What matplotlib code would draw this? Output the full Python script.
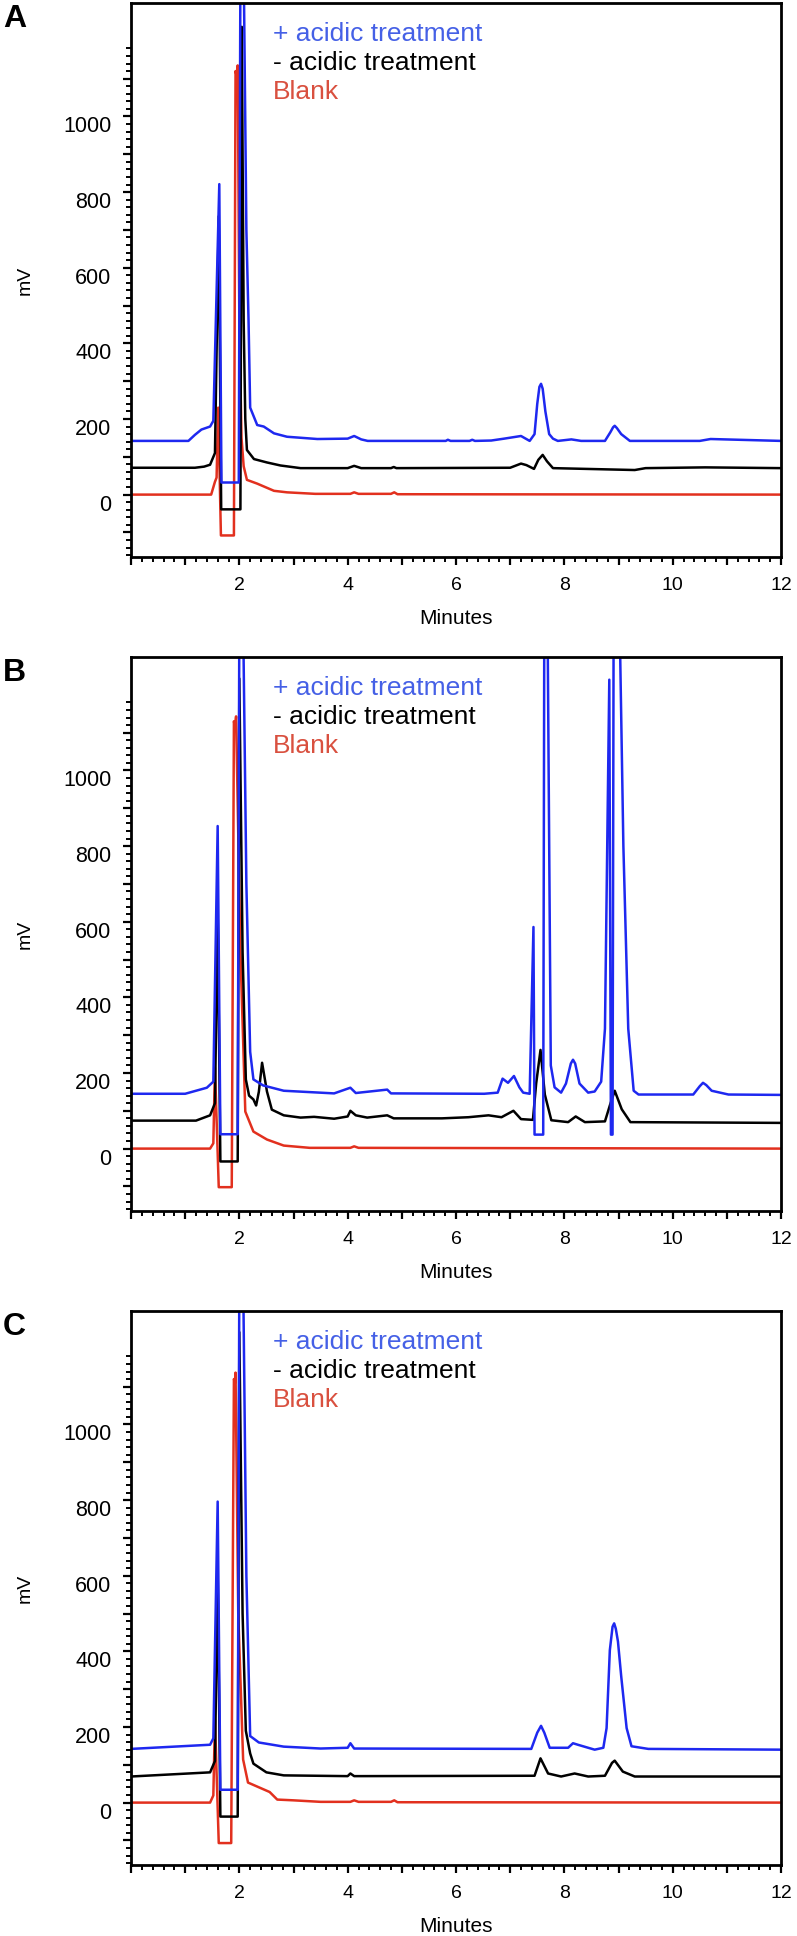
import numpy as np
import matplotlib
matplotlib.use("Agg")
import matplotlib.pyplot as plt
from matplotlib.ticker import FixedLocator, FuncFormatter
import matplotlib.transforms as mtransforms

plt.rcParams['font.family'] = ['Liberation Sans', 'DejaVu Sans']

# ---------------- data (minutes, mV) ----------------
# Panel A
A_blue_t = [0, 1.06, 1.18, 1.30, 1.46, 1.52, 1.63, 1.67, 1.99, 2.02, 2.08, 2.13, 2.17, 2.20, 2.33, 2.45,
            2.64, 2.88, 3.44, 4.0, 4.12, 4.25, 4.37, 5.81, 5.85, 5.9, 6.25, 6.3, 6.35, 6.65, 6.89, 7.20,
            7.36, 7.45, 7.50, 7.54, 7.57, 7.60, 7.65, 7.72, 7.79, 7.88, 8.13, 8.31, 8.75, 8.85, 8.90,
            8.93, 8.97, 9.05, 9.21, 10.5, 10.7, 12.0]
A_blue_mv = [142, 142, 158, 172, 180, 195, 821, 32, 32, 1400, 1400, 700, 460, 230, 184, 180,
             162, 153, 147, 148, 155, 146, 142, 142, 145, 142, 142, 145, 142, 143, 148, 155,
             142, 160, 240, 285, 293, 280, 220, 160, 148, 142, 146, 142, 142, 165, 178,
             182, 176, 160, 142, 142, 147, 142]
A_black_t = [0, 1.18, 1.35, 1.46, 1.55, 1.62, 1.665, 2.02, 2.045, 2.08, 2.11, 2.14, 2.27, 2.51, 2.76,
             3.13, 4.0, 4.12, 4.25, 4.8, 4.85, 4.9, 7.0, 7.2, 7.3, 7.44, 7.52, 7.6, 7.68, 7.79, 9.3,
             9.5, 10.6, 12]
A_black_mv = [71, 71, 74, 79, 110, 736, -39, -39, 1237, 460, 200, 118, 94, 85, 77,
              70, 70, 76, 70, 70, 73, 70, 71, 82, 78, 68, 92, 105, 88, 70, 65,
              70, 72, 70]
A_red_t = [0, 1.48, 1.55, 1.58, 1.61, 1.66, 1.90, 1.93, 1.95, 1.97, 2.00, 2.04, 2.08, 2.14, 2.33,
           2.64, 2.88, 3.4, 4.05, 4.12, 4.2, 4.8, 4.86, 4.92, 12]
A_red_mv = [0, 0, 34, 45, 230, -108, -108, 1120, 1108, 1135, 460, 150, 75, 39, 29,
            10, 6, 2, 2, 6, 2, 2, 6, 1, 0]

# Panel B
B_blue_t = [0, 1.0, 1.4, 1.52, 1.60, 1.65, 1.97, 2.0, 2.07, 2.13, 2.20, 2.26, 2.44, 2.82, 3.75, 4.05,
            4.15, 4.73, 4.8, 6.52, 6.77, 6.86, 6.96, 7.07, 7.17, 7.24, 7.36, 7.43, 7.45, 7.61, 7.63,
            7.69, 7.75, 7.82, 7.94, 8.03, 8.12, 8.16, 8.20, 8.28, 8.44, 8.56, 8.68, 8.75, 8.83, 8.86,
            8.89, 8.91, 9.02, 9.09, 9.18, 9.28, 9.37, 10.38, 10.50, 10.56, 10.62, 10.72, 11.03, 12]
B_blue_mv = [145, 145, 161, 177, 853, 38, 38, 1400, 1400, 700, 256, 183, 167, 153, 146, 161,
             147, 156, 146, 145, 148, 185, 174, 192, 162, 148, 145, 586, 37, 37, 1400,
             1400, 220, 162, 148, 172, 225, 235, 225, 172, 148, 151, 177, 317, 1240, 37,
             37, 1400, 1400, 800, 317, 153, 143, 143, 165, 174, 168, 153, 143, 142]
B_black_t = [0, 1.2, 1.46, 1.55, 1.60, 1.65, 1.97, 2.0, 2.06, 2.12, 2.18, 2.26, 2.31, 2.36, 2.42,
             2.51, 2.6, 2.82, 3.13, 3.38, 3.75, 4.0, 4.05, 4.15, 4.36, 4.73, 4.85, 5.74, 6.23, 6.6,
             6.84, 7.06, 7.2, 7.42, 7.48, 7.56, 7.64, 7.76, 8.07, 8.21, 8.38, 8.75, 8.84, 8.93, 9.06,
             9.22, 12]
B_black_mv = [74, 74, 88, 120, 626, -34, -34, 1243, 520, 183, 140, 130, 114, 150, 227,
              151, 103, 88, 82, 84, 79, 85, 100, 88, 82, 88, 80, 80, 83, 88,
              83, 100, 78, 76, 172, 261, 143, 75, 70, 85, 70, 72, 114, 153, 104,
              70, 68]
B_red_t = [0, 1.46, 1.52, 1.55, 1.62, 1.86, 1.90, 1.92, 1.94, 2.02, 2.11, 2.26, 2.51, 2.82, 3.3,
           4.05, 4.12, 4.2, 12]
B_red_mv = [0, 0, 14, 214, -102, -102, 1130, 1115, 1143, 520, 98, 45, 24, 8, 2,
            2, 6, 2, 0]

# Panel C
C_blue_t = [0, 1.46, 1.52, 1.60, 1.65, 1.97, 2.0, 2.07, 2.13, 2.20, 2.36, 2.82, 3.5, 4.0, 4.05,
            4.12, 7.39, 7.50, 7.57, 7.63, 7.73, 8.07, 8.16, 8.25, 8.44, 8.56, 8.72, 8.78, 8.84,
            8.89, 8.92, 8.95, 8.99, 9.05, 9.15, 9.24, 9.55, 12]
C_blue_mv = [142, 153, 170, 796, 34, 34, 1400, 1400, 600, 176, 159, 148, 143, 145, 157,
             143, 142, 185, 203, 185, 145, 145, 157, 153, 145, 140, 145, 197, 403,
             465, 474, 460, 426, 334, 197, 149, 142, 140]
C_black_t = [0, 1.46, 1.55, 1.60, 1.65, 1.97, 2.0, 2.06, 2.12, 2.2, 2.26, 2.5, 2.82, 4.0, 4.05,
             4.12, 7.45, 7.56, 7.7, 7.94, 8.19, 8.44, 8.75, 8.88, 8.93, 9.08, 9.3, 12]
C_black_mv = [69, 80, 110, 606, -37, -37, 1244, 500, 190, 130, 103, 80, 72, 70, 77,
              70, 71, 117, 77, 69, 77, 69, 71, 105, 111, 82, 69, 69]
C_red_t = [0, 1.46, 1.52, 1.55, 1.62, 1.85, 1.90, 1.92, 1.93, 1.98, 2.07, 2.16, 2.56, 2.7, 3.0,
           3.5, 4.05, 4.12, 4.2, 4.8, 4.86, 4.92, 12]
C_red_mv = [0, 0, 19, 220, -107, -107, 1120, 1110, 1137, 500, 114, 53, 28, 8, 6,
            2, 2, 6, 2, 2, 6, 1, 0]

panel_labels = ["A", "B", "C"]
legend_labels = ["+ acidic treatment", "- acidic treatment", "Blank"]
x_tick_labels = ["2", "4", "6", "8", "10", "12"]
y_tick_labels = ["0", "200", "400", "600", "800", "1000"]

panels = [
    (A_red_t, A_red_mv, A_black_t, A_black_mv, A_blue_t, A_blue_mv),
    (B_red_t, B_red_mv, B_black_t, B_black_mv, B_blue_t, B_blue_mv),
    (C_red_t, C_red_mv, C_black_t, C_black_mv, C_blue_t, C_blue_mv),
]

# ---------------- style ----------------
W, H = 797, 1936
fig = plt.figure(figsize=(W / 100, H / 100), dpi=100)

BLUE = '#1e28f0'
RED = '#e2301e'
BLACK = '#000000'
BLUE_TXT = '#4560e6'
RED_TXT = '#d9503f'

ax_left, ax_right = 131, 781
ax_tops = [3, 657, 1311]
ax_h = 554

for i, (rt, rv, kt, kv, bt, bv) in enumerate(panels):
    top = ax_tops[i]
    ax = fig.add_axes([ax_left / W, 1 - (top + ax_h) / H, (ax_right - ax_left) / W, ax_h / H])
    ax.plot(rt, rv, color=RED, lw=1.8, solid_joinstyle='round')
    ax.plot(kt, kv, color=BLACK, lw=1.8, solid_joinstyle='round')
    ax.plot(bt, bv, color=BLUE, lw=1.8, solid_joinstyle='round')
    ax.set_xlim(0, 12)
    ax.set_ylim(-165, 1300)

    # x ticks
    ax.xaxis.set_major_locator(FixedLocator(np.arange(0, 13, 1)))
    ax.xaxis.set_minor_locator(FixedLocator(np.arange(0, 12.01, 0.2)))
    ax.xaxis.set_major_formatter(FuncFormatter(
        lambda v, p: x_tick_labels[int(round(v)) // 2 - 1] if (round(v) % 2 == 0 and round(v) > 0) else ""))
    # y ticks
    ax.yaxis.set_major_locator(FixedLocator(np.arange(-100, 1101, 100)))
    ax.yaxis.set_minor_locator(FixedLocator(np.arange(-160, 1181, 20)))
    ax.yaxis.set_major_formatter(FuncFormatter(
        lambda v, p: y_tick_labels[int(round(v)) // 200] if (round(v) % 200 == 0 and 0 <= round(v) <= 1000) else ""))

    ax.tick_params(axis='both', which='major', direction='out', length=6, width=1.6, color='black')
    ax.tick_params(axis='both', which='minor', direction='out', length=3.5, width=1.4, color='black')
    ax.tick_params(axis='x', which='major', labelsize=14, pad=8.5)
    ax.tick_params(axis='y', which='major', labelsize=15.5, pad=8)
    offset = mtransforms.ScaledTranslation(0, -8 / 100, fig.dpi_scale_trans)
    for lbl in ax.get_yticklabels():
        lbl.set_transform(lbl.get_transform() + offset)

    for s in ax.spines.values():
        s.set_linewidth(2.0)
        s.set_color('black')

    # legend text
    lx = (273 - ax_left) / (ax_right - ax_left)
    ax.text(lx, 1 - 31 / ax_h, legend_labels[0], color=BLUE_TXT,
            fontsize=19, transform=ax.transAxes, ha='left', va='center')
    ax.text(lx, 1 - 60 / ax_h, legend_labels[1], color=BLACK,
            fontsize=19, transform=ax.transAxes, ha='left', va='center')
    ax.text(lx, 1 - 89 / ax_h, legend_labels[2], color=RED_TXT,
            fontsize=19, transform=ax.transAxes, ha='left', va='center')

    # axis titles
    fig.text(25 / W, 1 - (top + ax_h / 2) / H, "mV", rotation=90, fontsize=14, ha='center', va='center')
    fig.text((ax_left + ax_right) / 2 / W, 1 - (top + ax_h + 61) / H, "Minutes", fontsize=15,
             ha='center', va='center')
    # panel label
    fig.text(3 / W, 1 - (top + 16) / H, panel_labels[i], fontsize=23, fontweight='bold',
             ha='left', va='center')

fig.savefig("out.png", dpi=100)
